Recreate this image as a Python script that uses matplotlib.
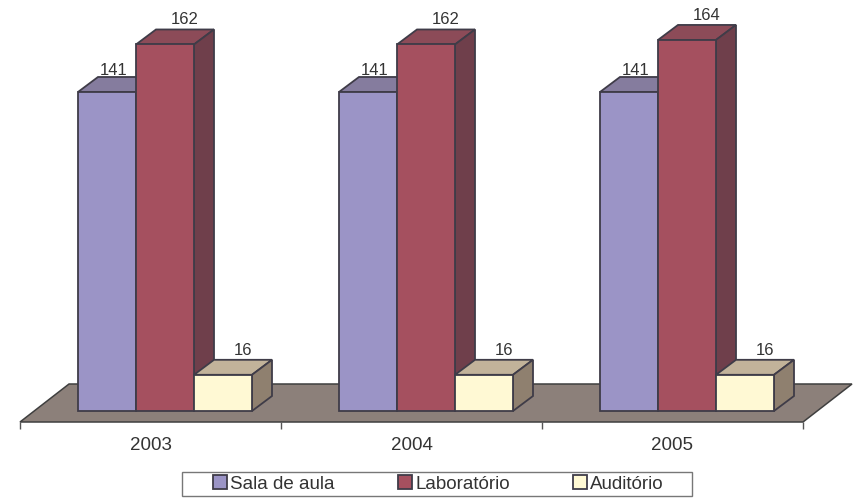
import numpy as np
import matplotlib
matplotlib.use("Agg")
import matplotlib.pyplot as plt
from matplotlib.patches import Polygon, Rectangle

years = ['2003', '2004', '2005']
sala = [141, 141, 141]
laboratorio = [162, 162, 164]
auditorio = [16, 16, 16]

plt.rcParams['font.family'] = ['Liberation Sans', 'DejaVu Sans']
W, H = 854, 498
TXT = '#333333'
EDGE = '#3f3c48'

fig = plt.figure(figsize=(W / 100, H / 100), dpi=100)
# axes runs from the front floor edge up to the top of the image
ax = fig.add_axes([20 / W, (H - 422) / H, 783 / W, 422 / H])

px_x = 261.0          # pixels per category
px_y = 2.2625         # pixels per unit
ax.set_xlim(0, 3)
ax.set_ylim(-11 / px_y, 411 / px_y)

dx = 20 / px_x
dy = 15 / px_y
w = 58 / px_x
start = 58 / px_x

# floor
fx = 49 / px_x
fy = 38 / px_y
y0 = -11 / px_y
ax.add_patch(Polygon([(0, y0), (3, y0), (3 + fx, y0 + fy), (fx, y0 + fy)], closed=True,
                     facecolor='#8c807a', edgecolor='#3f3f3f', lw=1.1, clip_on=False, zorder=1))

series = [
    ('Sala de aula', sala, '#9b94c6', '#857c9e', '#6f6888', 7, 1.5),
    ('Laboratório', laboratorio, '#a5505f', '#8c4b58', '#6f3f4b', 20, 5),
    ('Auditório', auditorio, '#fff9d4', '#c2b39a', '#8f806f', 20, 5),
]
x = np.arange(len(years))

for k, (name, vals, front, top, side, lab_dx, lab_dy) in enumerate(series):
    z = 3 + k
    xs = x + start + k * w
    ax.bar(xs, vals, width=w, align='edge', color=front, edgecolor=EDGE, lw=1.3,
           label=name, zorder=z + 0.5, clip_on=False)
    for xi, v in zip(xs, vals):
        ax.add_patch(Polygon([(xi, v), (xi + w, v), (xi + w + dx, v + dy), (xi + dx, v + dy)],
                             closed=True, facecolor=top, edgecolor=EDGE, lw=1.3,
                             clip_on=False, zorder=z))
        ax.add_patch(Polygon([(xi + w, 0), (xi + w + dx, dy), (xi + w + dx, v + dy), (xi + w, v)],
                             closed=True, facecolor=side, edgecolor=EDGE, lw=1.3,
                             clip_on=False, zorder=z))
        ax.text(xi + w / 2 + lab_dx / px_x, v + dy + lab_dy / px_y, str(v), ha='center', va='baseline',
                fontsize=12, color=TXT, zorder=10)

for s in ['top', 'left', 'right', 'bottom']:
    ax.spines[s].set_visible(False)
ax.patch.set_alpha(0)
ax.set_yticks([])
ax.set_xticks(np.arange(len(years) + 1))
ax.set_xticklabels([])
ax.tick_params(axis='x', which='major', length=5, width=1, color='#555555')
ax.set_xticks(x + 0.5, minor=True)
ax.set_xticklabels(years, minor=True, fontsize=13.5, color=TXT)
ax.tick_params(axis='x', which='minor', length=0, pad=11)

# legend frame is wider than its entries
fig.add_artist(Rectangle((182 / W, (H - 496) / H), 510 / W, 24 / H, transform=fig.transFigure,
                         facecolor='white', edgecolor='#777777', lw=1))
leg = fig.legend(loc='center', bbox_to_anchor=(438.5 / W, (H - 484) / H), ncol=3,
                 fontsize=13.5, frameon=False, labelcolor=TXT, handlelength=0.75, handleheight=0.75,
                 handletextpad=0.15, columnspacing=3.4, borderpad=0, borderaxespad=0)
leg.set_zorder(5)

fig.savefig('out.png', dpi=100)
